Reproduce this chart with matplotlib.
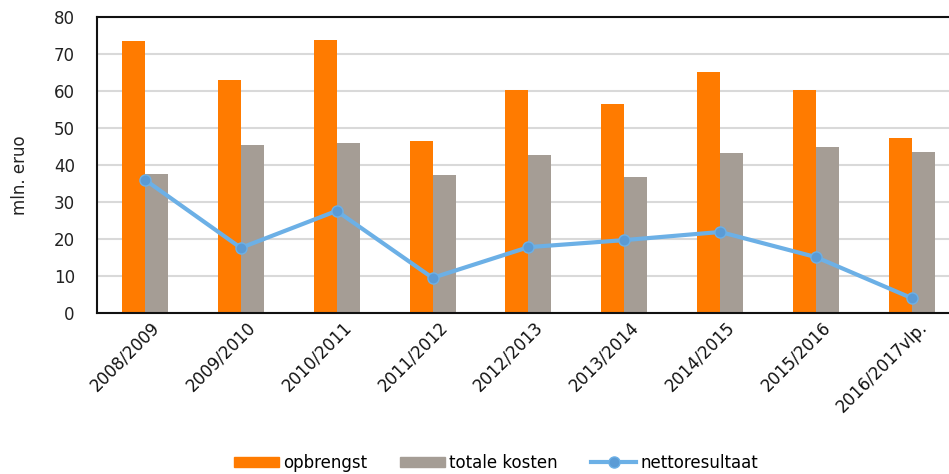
import matplotlib
matplotlib.use("Agg")
import matplotlib.pyplot as plt
import numpy as np
from matplotlib.lines import Line2D
from matplotlib.patches import Patch

categories = ["2008/2009", "2009/2010", "2010/2011", "2011/2012", "2012/2013",
              "2013/2014", "2014/2015", "2015/2016", "2016/2017vlp."]
opbrengst = [73.5, 63.0, 73.8, 46.5, 60.3, 56.5, 65.1, 60.3, 47.3]
totale_kosten = [37.6, 45.4, 46.0, 37.3, 42.7, 36.8, 43.2, 44.9, 43.5]
nettoresultaat = [36.0, 17.6, 27.6, 9.5, 17.8, 19.7, 21.9, 15.1, 4.0]
yticks = [0, 10, 20, 30, 40, 50, 60, 70, 80]

plt.rcParams['font.family'] = ['DejaVu Sans']
FS = 12

W, H = 949, 474
fig = plt.figure(figsize=(W / 100, H / 100), dpi=100)
left, right, top, bottom = 97, 97 + 9 * 95.875, 17, 313
ax = fig.add_axes([left / W, 1 - bottom / H, (right - left) / W, (bottom - top) / H])

x = np.arange(len(categories))
bw = 0.24
c_or = "#FF7B00"
c_gr = "#A59D95"
c_ln = "#6CB0E6"
c_mk = "#5B9BD5"

ax.bar(x - bw / 2, opbrengst, width=bw, color=c_or, zorder=2)
ax.bar(x + bw / 2, totale_kosten, width=bw, color=c_gr, zorder=2)
ax.plot(x, nettoresultaat, color=c_ln, lw=3, marker='o', ms=8,
        markerfacecolor=c_mk, markeredgecolor=c_ln, markeredgewidth=1, zorder=3)

ax.set_xlim(-0.5, len(categories) - 0.5)
ax.set_ylim(0, 80)
ax.set_yticks(yticks)
ax.set_yticklabels([str(v) for v in yticks], fontsize=FS, color="#222222")
ax.tick_params(axis='y', length=0, pad=16)
ax.set_xticks(x + 0.06)
ax.set_xticklabels(categories, fontsize=FS, rotation=45, ha='right',
                   va='top', rotation_mode='anchor', color="#111111")
ax.tick_params(axis='x', length=0, pad=4)
ax.grid(axis='y', color="#D9D9D9", lw=1.5, zorder=0)
ax.set_axisbelow(True)
for s in ['top', 'left', 'bottom', 'right']:
    ax.spines[s].set_color('#111111')
    ax.spines[s].set_linewidth(1.5)

fig.text(20 / W, 1 - 175 / H, "mln. eruo", rotation=90, ha='center', va='center',
         fontsize=FS, color="#222222")

handles = [Patch(color=c_or), Patch(color=c_gr),
           Line2D([0], [0], color=c_ln, lw=3, marker='o', ms=8,
                  markerfacecolor=c_mk, markeredgecolor=c_ln)]
labels = ["opbrengst", "totale kosten", "nettoresultaat"]
fig.legend(handles, labels, loc='center', bbox_to_anchor=(496 / W, 1 - 463 / H),
           ncol=3, frameon=False, fontsize=FS, handlelength=2.7,
           handleheight=0.6, columnspacing=2.0, handletextpad=0.25)

fig.savefig("out.png", dpi=100)
